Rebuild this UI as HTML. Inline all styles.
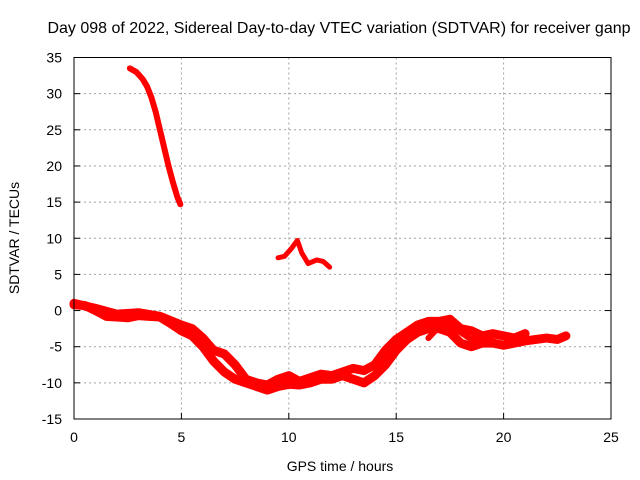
<!DOCTYPE html>
<html><head><meta charset="utf-8"><style>
body{margin:0;background:#fff}
svg{display:block;font-family:"Liberation Sans",sans-serif}
</style></head><body>
<svg id="chart" width="640" height="480" viewBox="0 0 640 480">
<rect width="640" height="480" fill="#fff"/>
<g id="grid"></g>
<g id="series"></g>
<rect x="74" y="57.5" width="537" height="361.5" fill="none" stroke="#000" stroke-width="1"/>
<g id="ticks" font-size="14" fill="#000"></g>
<text x="339" y="33" font-size="16" text-anchor="middle">Day 098 of 2022, Sidereal Day-to-day VTEC variation (SDTVAR) for receiver ganp</text>
<text x="340" y="471" font-size="14" text-anchor="middle">GPS time / hours</text>
<text transform="translate(19,238) rotate(-90)" font-size="14" text-anchor="middle">SDTVAR / TECUs</text>
</svg>
<script>
const xTicks=[0,5,10,15,20,25];
const yTicks=[-15,-10,-5,0,5,10,15,20,25,30,35];
const steepX=[2.6,2.9,3.2,3.4,3.6,3.8,4.0,4.2,4.4,4.6,4.8,4.95];
const steepY=[33.5,33,32,31,29.5,27.5,25,22.5,20,17.8,15.8,14.7];
const midX=[9.5,9.8,10.1,10.4,10.6,10.9,11.3,11.6,11.9];
const midY=[7.3,7.5,8.5,9.7,8,6.5,7,6.8,6];
const lowAX=[0,0.5,1,1.5,2,2.5,3,3.5,4,4.5,5,5.5,6,6.5,7,7.5,8,8.5,9,9.5,10,10.5,11,11.5,12,12.5,13,13.5,14,14.5,15,15.5,16,16.5,17,17.5,18,18.5,19,19.5,20,20.5,21,21.5,22,22.5,22.9];
const lowAY=[0.8,0.7,0,-0.8,-0.9,-1,-0.7,-0.8,-0.9,-1.8,-2.8,-3.5,-5,-7,-8.5,-9.5,-10,-10.5,-11,-10.5,-10.2,-10.3,-10,-9.5,-9.5,-9,-9.5,-10,-9,-7.5,-5.5,-4,-3,-2.5,-2.5,-3,-4.5,-5,-4.5,-4.5,-4.8,-4.5,-4.2,-4,-3.8,-4,-3.5];
const lowBX=[0,1,2,3,4,5,5.5,6,6.5,7,7.5,8,8.5,9,9.5,10,10.5,11,11.5,12,12.5,13,13.5,14,14.5,15,15.5,16,16.5,17,17.5,18,18.5,19,19.5,20,20.5,21];
const lowBY=[1,0.3,-0.5,-0.3,-0.8,-2,-2.5,-3.8,-5.5,-6,-7.5,-9.5,-10,-10.3,-9.5,-9,-9.8,-9.3,-8.8,-9,-8.5,-8,-8.3,-7.5,-5.5,-4,-3,-2,-1.5,-1.5,-1.2,-2.5,-2.8,-3.5,-3.2,-3.5,-3.8,-3.2];
const lowCX=[16.5,17,17.5,18,18.5,19,19.5,20];
const lowCY=[-3.8,-2.2,-2,-3,-4,-3.6,-3.5,-3.3];
const X0=74,X1=611,Y0=57.5,Y1=419;
const sx=v=>X0+(v-0)/25*(X1-X0);
const sy=v=>Y1-(v+15)/50*(Y1-Y0);
const NS="http://www.w3.org/2000/svg";
const grid=document.getElementById('grid'),ticks=document.getElementById('ticks'),ser=document.getElementById('series');
function mk(tag,attrs,parent){const e=document.createElementNS(NS,tag);for(const k in attrs)e.setAttribute(k,attrs[k]);parent.appendChild(e);return e;}
xTicks.forEach(t=>{
  const x=sx(t);
  if(t>0&&t<25){const l=mk('line',{x1:x,x2:x,y1:Y0,y2:Y1,stroke:'#a0a0a0','stroke-dasharray':'2,3'},grid);
  
  }
  const tk=mk('line',{x1:x,x2:x,y1:Y1,y2:Y1-6,stroke:'#000'},ticks);
  
  
  const tx=mk('text',{x:x,y:Y1+23,'text-anchor':'middle'},ticks);tx.textContent=t;
  
  
});
yTicks.forEach(t=>{
  const y=sy(t);
  if(t>-15&&t<35){const l=mk('line',{x1:X0,x2:X1,y1:y,y2:y,stroke:'#a0a0a0','stroke-dasharray':'2,3'},grid);
  
  }
  const tk=mk('line',{x1:X0,x2:X0+6,y1:y,y2:y,stroke:'#000'},ticks);
  
  
  const tk2=mk('line',{x1:X1,x2:X1-6,y1:y,y2:y,stroke:'#000'},ticks);
  
  
  const tx=mk('text',{x:X0-12,y:y+5,'text-anchor':'end'},ticks);tx.textContent=t;
  
  
});
function line(xs,ys,w,name){
  const pts=xs.map((v,i)=>sx(v)+','+sy(ys[i])).join(' ');
  const p=mk('polyline',{points:pts,fill:'none',stroke:'#f00','stroke-width':w,'stroke-linejoin':'round','stroke-linecap':'round'},ser);
  
  
}
line(steepX,steepY,6,'series-steep-arc');
line(midX,midY,5,'series-middle-arc');
line(lowAX,lowAY,9,'series-low-track-a');
line(lowBX,lowBY,9,'series-low-track-b');
line(lowCX,lowCY,6,'series-low-track-c');
</script>
</body></html>
